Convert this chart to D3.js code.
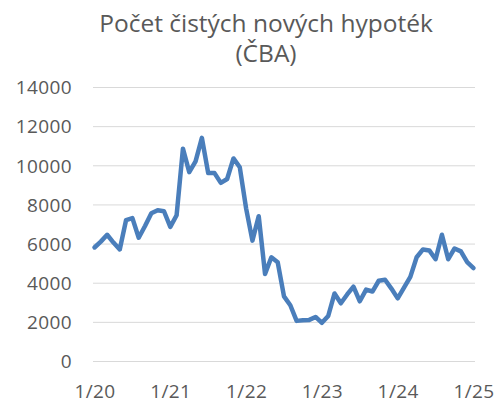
<!DOCTYPE html>
<html><head><meta charset="utf-8">
<script src="https://cdn.jsdelivr.net/npm/d3@7"></script>
<style>body{margin:0;background:#fff}svg{display:block}</style>
</head><body>
<svg id="c" width="497" height="417"></svg>
<script>
const titleLines = ["Počet čistých nových hypoték", "(ČBA)"];
const months = d3.range(0, 61);
const values = [5800,6100,6450,6050,5700,7200,7300,6300,6900,7550,7700,7650,
  6850,7450,10850,9650,10200,11400,9600,9600,9100,9300,10350,9900,
  7800,6150,7400,4450,5300,5050,3300,2850,2050,2080,2100,2250,1950,2300,
  3450,2950,3400,3800,3050,3650,3550,4100,4150,3700,3200,3750,4300,5300,
  5700,5650,5200,6450,5200,5750,5600,5050,4750];
const yTicks = [0,2000,4000,6000,8000,10000,12000,14000];
const xTickMonths = [0,12,24,36,48,60];
const xTickLabels = ["1/20","1/21","1/22","1/23","1/24","1/25"];

const font = "'Open Sans', sans-serif";
const svg = d3.select("#c");
const x = d3.scaleLinear().domain([0,60]).range([94.5,473.5]);
const y = d3.scaleLinear().domain([0,14000]).range([361,87]);

svg.append("g").selectAll("text").data(titleLines).join("text")
  .attr("x", 266).attr("y", (d,i)=>32+i*30)
  .attr("text-anchor","middle").attr("font-family",font).attr("font-size",24.5)
  .attr("fill","#595959").text(d=>d);

const gy = svg.append("g").attr("transform","translate(93,0)")
  .call(d3.axisLeft(y).tickValues(yTicks).tickSize(-382).tickFormat(d=>d));
gy.select(".domain").remove();
gy.selectAll(".tick line").attr("stroke","#d9d9d9").attr("stroke-width",1);
gy.selectAll(".tick text").attr("x",-21).attr("dy","0.36em").attr("font-family",font).attr("font-size",19)
  .attr("letter-spacing",0.4).attr("fill","#595959");

const gx = svg.append("g").attr("transform","translate(0,361)")
  .call(d3.axisBottom(x).tickValues(xTickMonths).tickSize(0)
    .tickFormat((d,i)=>xTickLabels[i]));
gx.select(".domain").remove();
gx.selectAll(".tick text").attr("dy",0).attr("y",37).attr("font-family",font).attr("font-size",19)
  .attr("letter-spacing",0.4).attr("fill","#595959");

svg.append("path").datum(values)
  .attr("fill","none").attr("stroke","#4a7ebb").attr("stroke-width",4.5)
  .attr("stroke-linejoin","round").attr("stroke-linecap","round")
  .attr("d", d3.line().x((d,i)=>x(months[i])).y(d=>y(d)));
</script>
</body></html>
